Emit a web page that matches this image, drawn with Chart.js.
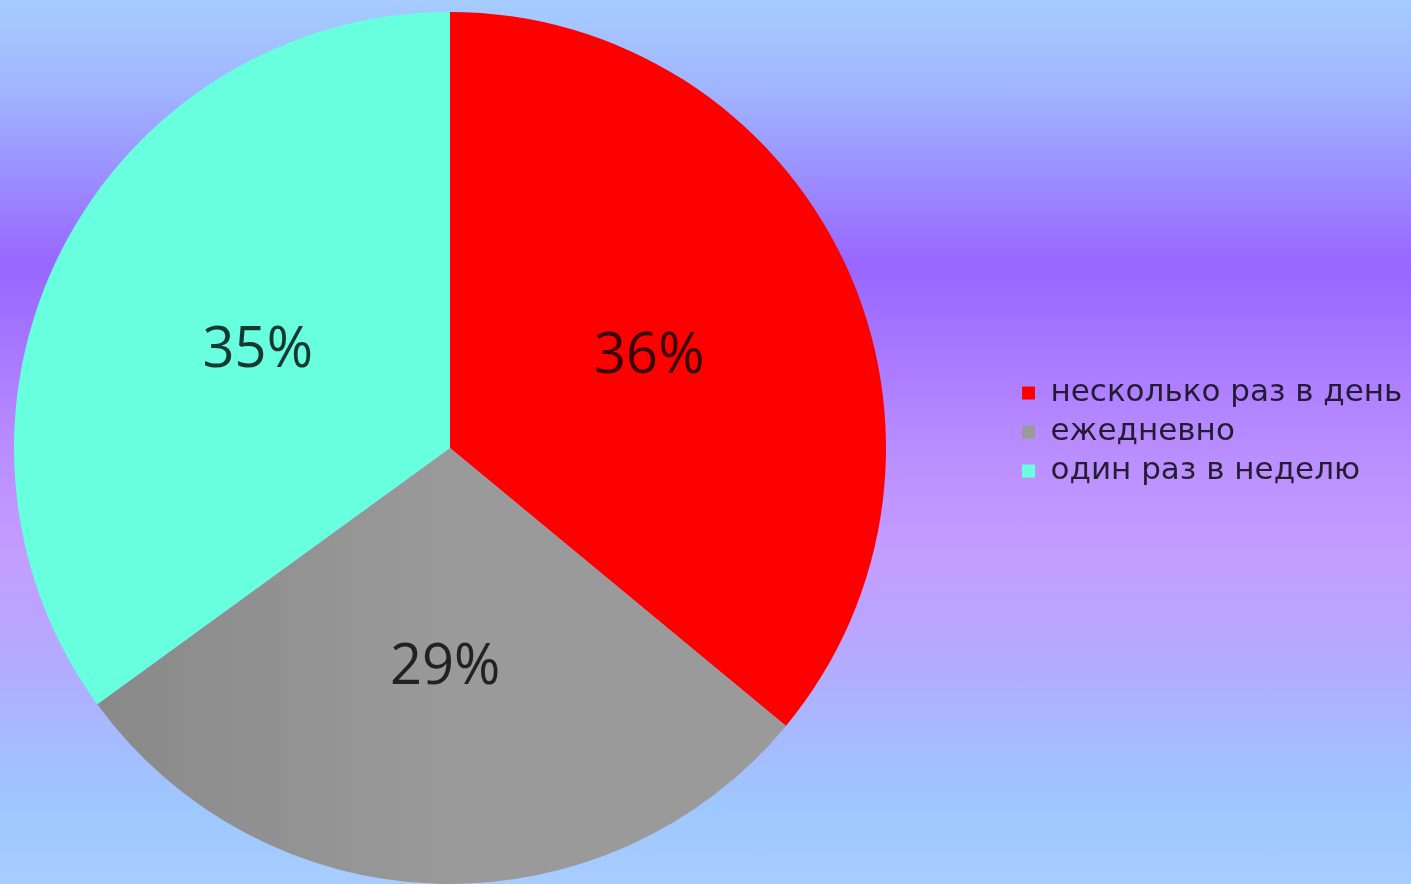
<!DOCTYPE html>
<html>
<head>
<meta charset="utf-8">
<script src="https://cdn.jsdelivr.net/npm/chart.js@4.4.1/dist/chart.umd.min.js"></script>
<style>
  html, body { margin: 0; padding: 0; }
  body {
    width: 1411px; height: 884px; overflow: hidden;
    background: linear-gradient(to bottom,
      #a6ccff 0%, #a0b6ff 10%, #9b8eff 20%, #9966ff 30%, #a878ff 40%,
      #b88cff 50%, #c49cff 62%, #b8a6ff 72%, #a8b8ff 82%, #9ec8ff 92%, #a8ccff 100%);
  }
  canvas { display: block; }
</style>
</head>
<body>
<canvas id="grafico-pizza" width="1411" height="884" style="width:1411px;height:884px"></canvas>
<script>
const categorias = ['несколько раз в день', 'ежедневно', 'один раз в неделю'];
const valores = [36, 29, 35];
const cores = ['#ff0000', '#959595', '#68ffdf'];

// gradiente leve no cinza (mais escuro a esquerda)
function corFatia(c) {
  const i = c.dataIndex;
  if (i !== 1) return cores[i];
  const area = c.chart.chartArea;
  if (!area) return cores[i];
  const g = c.chart.ctx.createLinearGradient(area.left, 0, area.left + area.width / 2, 0);
  g.addColorStop(0, '#858585');
  g.addColorStop(1, '#9a9a9a');
  return g;
}

// rotulos de porcentagem dentro das fatias
const rotulos = {
  id: 'rotulos',
  afterDatasetsDraw(chart) {
    const ctx = chart.ctx;
    const meta = chart.getDatasetMeta(0);
    ctx.save();
    ctx.font = '56px "Open Sans"';
    ctx.fillStyle = 'rgba(0,0,0,0.78)';
    ctx.textAlign = 'center';
    ctx.textBaseline = 'middle';
    meta.data.forEach((arco, i) => {
      const p = arco.tooltipPosition();
      ctx.fillText(valores[i] + '%', p.x + 2, p.y + 2);
    });
    ctx.restore();
  }
};

// posiciona a pizza e a legenda
const ajuste = {
  id: 'ajuste',
  afterLayout(chart) {
    const a = chart.chartArea;
    a.left = 14; a.right = 886; a.top = 12; a.bottom = 884;
    a.width = 872; a.height = 872;
    const lg = chart.legend;
    const w = lg.width;
    lg.left = 1014; lg.right = lg.left + w;
    lg.top = 12; lg.bottom = 852;
  }
};

const ctx = document.getElementById('grafico-pizza');

new Chart(ctx, {
  type: 'pie',
  data: {
    labels: categorias,
    datasets: [{
      data: valores,
      backgroundColor: corFatia,
      borderWidth: 0
    }]
  },
  options: {
    responsive: false,
    animation: false,
    layout: { padding: { left: 14, top: 12, right: 0, bottom: 0 } },
    plugins: {
      tooltip: { enabled: false },
      legend: {
        position: 'right',
        labels: {
          boxWidth: 13,
          boxHeight: 13,
          padding: 8,
          color: 'rgba(0,0,0,0.8)',
          font: { family: 'DejaVu Sans', size: 31 }
        }
      }
    }
  },
  plugins: [rotulos, ajuste]
});
</script>
</body>
</html>
